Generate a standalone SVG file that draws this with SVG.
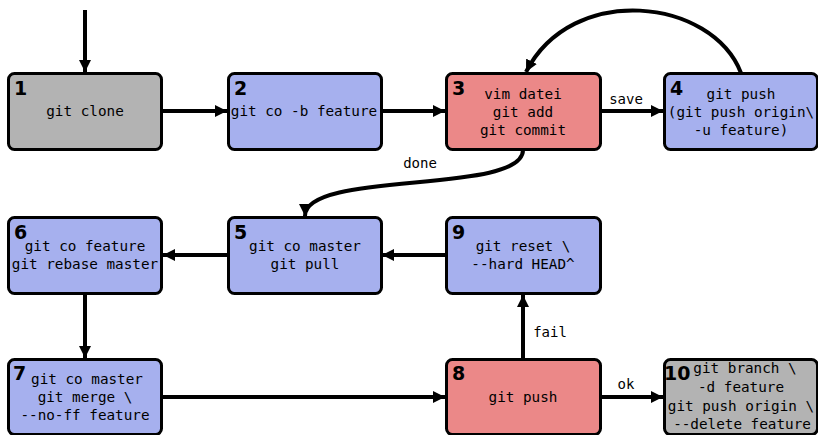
<svg xmlns="http://www.w3.org/2000/svg" width="818" height="435" viewBox="0 0 818 435">
<defs>
<style>
.box{stroke:#000;stroke-width:3}
.gray{fill:#b3b3b3}
.blue{fill:#a6b0ee}
.red{fill:#eb8888}
.t{font-family:"DejaVu Sans Mono",monospace;font-size:14.3px;fill:#000;text-anchor:middle}
.n{font-family:"DejaVu Sans",sans-serif;font-weight:bold;font-size:19px;fill:#000}
.c{fill:none;stroke:#000;stroke-width:4}
.l{font-family:"DejaVu Sans Mono",monospace;font-size:14px;fill:#000;text-anchor:middle}
</style>
<marker id="ah" viewBox="0 0 12 12" refX="12" refY="6" markerWidth="12" markerHeight="12" markerUnits="userSpaceOnUse" orient="auto">
<path d="M0,0 L12,6 L0,12 z" fill="#000"/>
</marker>
</defs>
<rect width="818" height="435" fill="#fff"/>
<g id="connectors">
<path class="c" d="M85,10 L85,72" marker-end="url(#ah)"/>
<path class="c" d="M162,111 L227,111" marker-end="url(#ah)"/>
<path class="c" d="M381,111 L445,111" marker-end="url(#ah)"/>
<path class="c" d="M601,111 L663,111" marker-end="url(#ah)"/>
<text class="l" x="626" y="104">save</text>
<path class="c" d="M741,73 C712,-2 572,-18 526,72" marker-end="url(#ah)"/>
<path class="c" d="M523,150 C523,195 305,170 305,216" marker-end="url(#ah)"/>
<text class="l" x="420" y="168">done</text>
<path class="c" d="M446,255 L382,255" marker-end="url(#ah)"/>
<path class="c" d="M228,255 L163,255" marker-end="url(#ah)"/>
<path class="c" d="M85,294 L85,358" marker-end="url(#ah)"/>
<path class="c" d="M162,397 L445,397" marker-end="url(#ah)"/>
<path class="c" d="M523,359 L523,295" marker-end="url(#ah)"/>
<text class="l" x="550" y="337">fail</text>
<path class="c" d="M601,397 L663,397" marker-end="url(#ah)"/>
<text class="l" x="626" y="389">ok</text>
</g>
<g id="node1">
<rect class="box gray" x="8.5" y="73.5" width="153" height="76" rx="6"/>
<text class="n" x="14" y="95">1</text>
<text class="t" x="85" y="116">git clone</text>
</g>
<g id="node2">
<rect class="box blue" x="228.5" y="73.5" width="153" height="76" rx="6"/>
<text class="n" x="234" y="95">2</text>
<text class="t" x="304" y="116">git co -b feature</text>
</g>
<g id="node3">
<rect class="box red" x="446.5" y="73.5" width="154" height="76" rx="6"/>
<text class="n" x="452" y="95">3</text>
<text class="t" x="523" y="99">vim datei</text>
<text class="t" x="523" y="117">git add</text>
<text class="t" x="523" y="135">git commit</text>
</g>
<g id="node4">
<rect class="box blue" x="664.5" y="73.5" width="153" height="76" rx="6"/>
<text class="n" x="670" y="95">4</text>
<text class="t" x="741" y="99">git push</text>
<text class="t" x="741" y="117">(git push origin\</text>
<text class="t" x="741" y="135">-u feature)</text>
</g>
<g id="node5">
<rect class="box blue" x="228.5" y="217.5" width="153" height="76" rx="6"/>
<text class="n" x="234" y="239">5</text>
<text class="t" x="305" y="251">git co master</text>
<text class="t" x="305" y="269">git pull</text>
</g>
<g id="node6">
<rect class="box blue" x="8.5" y="217.5" width="153" height="76" rx="6"/>
<text class="n" x="14" y="239">6</text>
<text class="t" x="85" y="251">git co feature</text>
<text class="t" x="85" y="269">git rebase master</text>
</g>
<g id="node9">
<rect class="box blue" x="446.5" y="217.5" width="154" height="76" rx="6"/>
<text class="n" x="452" y="239">9</text>
<text class="t" x="523" y="251">git reset \</text>
<text class="t" x="523" y="269">--hard HEAD^</text>
</g>
<g id="node7">
<rect class="box blue" x="8.5" y="359.5" width="153" height="75" rx="6"/>
<text class="n" x="13" y="380">7</text>
<text class="t" x="87" y="384">git co master</text>
<text class="t" x="85" y="402">git merge \</text>
<text class="t" x="85" y="420">--no-ff feature</text>
</g>
<g id="node8">
<rect class="box red" x="446.5" y="359.5" width="154" height="75" rx="6"/>
<text class="n" x="452" y="380">8</text>
<text class="t" x="523" y="402">git push</text>
</g>
<g id="node10">
<rect class="box gray" x="664.5" y="359.5" width="153" height="75" rx="6"/>
<text class="n" x="664" y="380">10</text>
<text class="t" x="745" y="373">git branch \</text>
<text class="t" x="741" y="392">-d feature</text>
<text class="t" x="741" y="411">git push origin \</text>
<text class="t" x="742" y="429">--delete feature</text>
</g>
</svg>
